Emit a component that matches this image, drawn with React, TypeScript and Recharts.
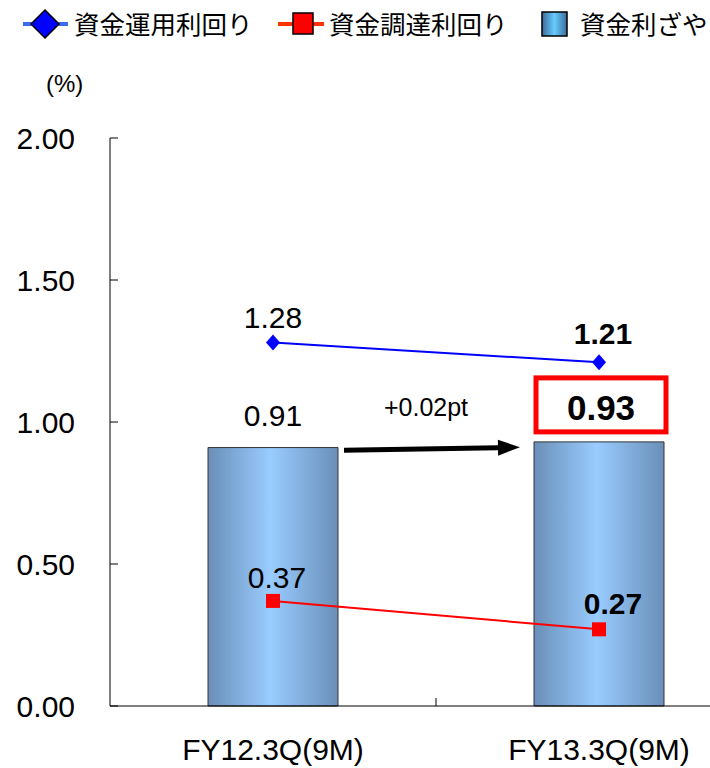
import React from 'react';
import {
  ComposedChart,
  Bar,
  Line,
  XAxis,
  YAxis,
  ReferenceLine,
  LabelList
} from 'recharts';

const categories = ['FY12.3Q(9M)', 'FY13.3Q(9M)'];
const spread = [0.91, 0.93]; // 資金利ざや
const assetYield = [1.28, 1.21]; // 資金運用利回り
const fundingCost = [0.37, 0.27]; // 資金調達利回り
const yTicks = [0, 0.5, 1, 1.5, 2];
const seriesNames = ['資金運用利回り', '資金調達利回り', '資金利ざや'];
const changeLabel = '+0.02pt';
const unitLabel = '(%)';

const data = categories.map((name, i) => ({
  name,
  spread: spread[i],
  assetYield: assetYield[i],
  fundingCost: fundingCost[i]
}));

const FONT = 'Arial, "Liberation Sans", sans-serif';
const JP_FONT = '"Noto Sans CJK JP", sans-serif';
const BAR_SIZE = 130;

const Diamond = ({ cx, cy }: any) => (
  <polygon
    points={`${cx},${cy - 8} ${cx + 7},${cy} ${cx},${cy + 8} ${cx - 7},${cy}`}
    fill="#0000ff"
  />
);

const Square = ({ cx, cy }: any) => (
  <rect x={cx - 7} y={cy - 7} width={14} height={14} fill="#ff0000" />
);

const BarLabel = ({ x, y, width, value, index }: any) => {
  const cx = x + width / 2;
  if (index === 1) {
    // highlighted latest value in a red box
    return (
      <g>
        <rect x={x + 2} y={y - 64} width={width} height={54} fill="#fff" stroke="#ff0000" strokeWidth={5} />
        <text x={cx + 2} y={y - 22} textAnchor="middle" fontFamily={FONT} fontSize={35} fontWeight="bold" fill="#000">
          {value.toFixed(2)}
        </text>
      </g>
    );
  }
  return (
    <text x={cx} y={y - 22} textAnchor="middle" fontFamily={FONT} fontSize={30} fill="#000">
      {value.toFixed(2)}
    </text>
  );
};

const makeLineLabel = (offsets: number[], dx: number[]) => ({ x, y, value, index }: any) => (
  <text
    x={x + dx[index]}
    y={y - offsets[index]}
    textAnchor="middle"
    fontFamily={FONT}
    fontSize={30}
    fontWeight={index === 1 ? 'bold' : 'normal'}
    fill="#000"
  >
    {value.toFixed(2)}
  </text>
);

const ChangeArrow = ({ x1, y1, x2, y2 }: any) => {
  const sx = x1 + BAR_SIZE / 2 + 6;
  const ex = x2 - BAR_SIZE / 2 - 14;
  const slope = (y2 - y1) / (x2 - x1);
  const sy = y1 + (sx - x1) * slope + 4;
  const ey = y1 + (ex - x1) * slope + 4;
  const ang = Math.atan2(ey - sy, ex - sx);
  const len = 22;
  const w = 8;
  const bx = ex - len * Math.cos(ang);
  const by = ey - len * Math.sin(ang);
  const px = -Math.sin(ang) * w;
  const py = Math.cos(ang) * w;
  const mx = (sx + ex) / 2;
  const my = (sy + ey) / 2;
  return (
    <g>
      <line x1={sx} y1={sy} x2={bx} y2={by} stroke="#000" strokeWidth={5} />
      <polygon points={`${ex},${ey} ${bx + px},${by + py} ${bx - px},${by - py}`} fill="#000" />
      <text x={mx - 6} y={my - 33} textAnchor="middle" fontFamily={FONT} fontSize={25} fill="#000">
        {changeLabel}
      </text>
    </g>
  );
};

const BoundaryTick = ({ x1, y1, y2 }: any) => {
  const yb = Math.max(y1, y2);
  return <line x1={x1} x2={x1} y1={yb} y2={yb - 8} stroke="#000" strokeWidth={1} />;
};

const legendText: React.CSSProperties = {
  position: 'absolute',
  top: 6,
  fontFamily: JP_FONT,
  fontSize: 25.5,
  lineHeight: '34px',
  color: '#000',
  whiteSpace: 'nowrap'
};

const LegendRow = () => (
  <div style={{ position: 'absolute', left: 0, top: 0, width: 710, height: 46 }}>
    <svg width={710} height={46} style={{ position: 'absolute', left: 0, top: 0 }}>
      <defs>
        <linearGradient id="legGrad" x1="0" y1="0" x2="1" y2="0">
          <stop offset="0%" stopColor="#3d6a9a" />
          <stop offset="50%" stopColor="#66ccff" />
          <stop offset="100%" stopColor="#3d6a9a" />
        </linearGradient>
      </defs>
      <line x1={23} x2={68} y1={24} y2={24} stroke="#3a6cf0" strokeWidth={4} />
      <polygon points="45,10 59,24 45,38 31,24" fill="#0000ff" stroke="#000" strokeWidth={1.5} />
      <line x1={278} x2={324} y1={24} y2={24} stroke="#ff3300" strokeWidth={4} />
      <rect x={293} y={13} width={20} height={21} fill="#ff0000" stroke="#000" strokeWidth={1.5} />
      <rect x={542} y={12} width={25} height={24} fill="url(#legGrad)" stroke="#000" strokeWidth={1.5} />
    </svg>
    <span style={{ ...legendText, left: 74 }}>{seriesNames[0]}</span>
    <span style={{ ...legendText, left: 329 }}>{seriesNames[1]}</span>
    <span style={{ ...legendText, left: 580 }}>{seriesNames[2]}</span>
  </div>
);

export default function App() {
  return (
    <div
      style={{
        position: 'absolute',
        left: 0,
        top: 0,
        width: 710,
        height: 768,
        overflow: 'hidden',
        background: '#fff'
      }}
    >
      <LegendRow />
      <div style={{ position: 'absolute', left: 46, top: 70, fontFamily: FONT, fontSize: 24 }}>{unitLabel}</div>
      <ComposedChart
        width={770}
        height={768}
        data={data}
        margin={{ top: 138, right: 8, bottom: 0, left: 0 }}
      >
        <defs>
          <linearGradient id="barGrad" x1="0" y1="0" x2="1" y2="0">
            <stop offset="0%" stopColor="#6a8fb8" />
            <stop offset="48%" stopColor="#99ccff" />
            <stop offset="100%" stopColor="#6a8fb8" />
          </linearGradient>
        </defs>
        <XAxis
          dataKey="name"
          height={62}
          tickSize={0}
          tickLine={false}
          tickMargin={33}
          axisLine={{ stroke: '#000' }}
          tick={{ fill: '#000', fontSize: 30, fontFamily: FONT }}
        />
        <YAxis
          width={110}
          domain={[0, 2]}
          ticks={yTicks}
          tickFormatter={(v: number) => v.toFixed(2)}
          tickSize={-8}
          tickMargin={43}
          tickLine={{ stroke: '#000' }}
          axisLine={{ stroke: '#000' }}
          tick={{ fill: '#000', fontSize: 30, fontFamily: FONT }}
          interval={0}
        />
        <ReferenceLine x={categories[0]} position="end" shape={<BoundaryTick />} />
        <Bar
          dataKey="spread"
          barSize={BAR_SIZE}
          fill="url(#barGrad)"
          stroke="#333"
          strokeWidth={1}
          isAnimationActive={false}
        >
          <LabelList dataKey="spread" content={<BarLabel />} />
        </Bar>
        <Line
          type="linear"
          dataKey="assetYield"
          stroke="#0000ff"
          strokeWidth={2}
          dot={<Diamond />}
          isAnimationActive={false}
        >
          <LabelList dataKey="assetYield" content={makeLineLabel([14, 18], [0, 4])} />
        </Line>
        <Line
          type="linear"
          dataKey="fundingCost"
          stroke="#ff0000"
          strokeWidth={2}
          dot={<Square />}
          isAnimationActive={false}
        >
          <LabelList dataKey="fundingCost" content={makeLineLabel([13, 15], [4, 14])} />
        </Line>
        <ReferenceLine
          segment={[
            { x: categories[0], y: spread[0] },
            { x: categories[1], y: spread[1] }
          ]}
          shape={<ChangeArrow />}
        />
      </ComposedChart>
    </div>
  );
}
